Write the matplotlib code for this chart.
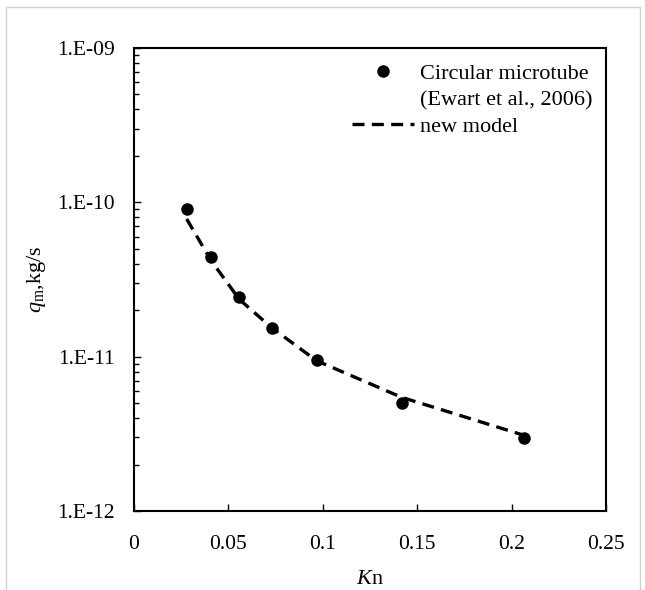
import numpy as np
import matplotlib.pyplot as plt
from matplotlib.lines import Line2D
from matplotlib.patches import Rectangle

plt.rcParams['font.family'] = ['Liberation Serif', 'DejaVu Serif']
plt.rcParams['mathtext.fontset'] = 'custom'
plt.rcParams['mathtext.rm'] = 'Liberation Serif'
plt.rcParams['mathtext.it'] = 'Liberation Serif:italic'

# Ewart et al. (2006) data, circular microtube
kn_exp = [0.0279, 0.0408, 0.0558, 0.0729, 0.0968, 0.1418, 0.2067]
qm_exp = [9.0e-11, 4.44e-11, 2.42e-11, 1.54e-11, 9.46e-12, 4.98e-12, 2.96e-12]

# new model
kn_model = [0.0279, 0.0408, 0.0558, 0.0729, 0.0968, 0.1418, 0.2067]
qm_model = [7.8e-11, 4.2e-11, 2.35e-11, 1.54e-11, 9.4e-12, 5.45e-12, 3.09e-12]

x_ticks = [0, 0.05, 0.1, 0.15, 0.2, 0.25]
x_labels = ['0', '0.05', '0.1', '0.15', '0.2', '0.25']
y_ticks = [1e-12, 1e-11, 1e-10, 1e-9]
y_labels = ['1.E-12', '1.E-11', '1.E-10', '1.E-09']

fig = plt.figure(figsize=(6.45, 5.9), dpi=100)
ax = fig.add_axes([134 / 645, 1 - 511 / 590, 472 / 645, 463 / 590])

ax.plot(kn_exp, qm_exp, 'o', color='black', markersize=8)
ax.plot(kn_model, qm_model, '--', color='black', linewidth=2.4,
        dashes=(3.6, 2.2))

ax.set_yscale('log')
ax.set_xlim(0, 0.25)
ax.set_ylim(1e-12, 1e-9)
ax.set_xticks(x_ticks)
ax.set_xticklabels(x_labels)
ax.set_yticks(y_ticks)
ax.set_yticklabels(y_labels)

ax.tick_params(axis='both', which='major', direction='in', length=5, width=1,
               labelsize=15.5)
ax.tick_params(axis='x', which='major', pad=17)
ax.tick_params(axis='y', which='major', pad=14)
ax.tick_params(axis='y', which='minor', direction='in', length=3.5, width=1)
ax.tick_params(axis='x', which='both', top=False)
ax.tick_params(axis='y', which='both', right=False)
for s in ax.spines.values():
    s.set_linewidth(1.5)

ax.set_xlabel(r'$\mathit{K}$n', fontsize=16, labelpad=12)
ax.set_ylabel(r'$\mathit{q}_{\mathrm{m}}$,kg/s', fontsize=16, labelpad=6)

# legend: first entry wraps onto a second line
h_exp = Line2D([], [], marker='o', color='black', linestyle='none', markersize=8)
h_blank = Line2D([], [], linestyle='none')
h_model = Line2D([], [], color='black', linestyle='--', linewidth=2.4,
                 dashes=(3.6, 2.2))
ax.legend([h_exp, h_blank, h_model],
          ['Circular microtube', '(Ewart et al., 2006)', 'new model'],
          loc='upper right', bbox_to_anchor=(1.0, 0.995), frameon=False,
          fontsize=16, handlelength=2.75, labelspacing=0.26,
          handletextpad=0.3, borderaxespad=0.2)

fig.patches.append(Rectangle((6 / 645, -0.05), 634 / 645, 1.05 - 7 / 590,
                             transform=fig.transFigure, fill=False,
                             edgecolor='#d0d0d0', linewidth=1))

fig.savefig('out.png', dpi=100)
